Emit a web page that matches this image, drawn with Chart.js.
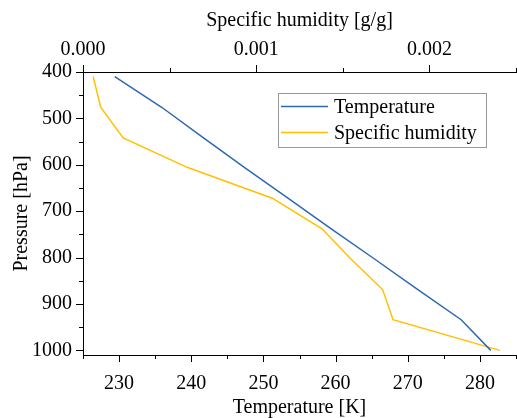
<!DOCTYPE html>
<html>
<head>
<meta charset="utf-8">
<script src="https://cdn.jsdelivr.net/npm/chart.js@4.4.0/dist/chart.umd.min.js"></script>
<style>
  html, body { margin: 0; padding: 0; background: #fff; }
  #wrap { width: 517px; height: 418px; }
</style>
</head>
<body>
<div id="wrap"><canvas id="chart" width="517" height="418"></canvas></div>
<script>
// pressure levels
const pressure = [410, 476, 542, 606, 672, 738, 802, 869, 934, 1000];
// temperature [K]
const temperature = [229.4, 235.9, 241.7, 247.4, 253.4, 259.4, 265.3, 271.4, 277.4, 281.5];
// specific humidity [g/g]
const humidity = [0.000059, 0.000102, 0.000232, 0.000605, 0.001093, 0.00138, 0.001544, 0.00173, 0.00179, 0.002406];
// y ticks (labelled every 100, minor every 50)
const pressureTicks = [400, 450, 500, 550, 600, 650, 700, 750, 800, 850, 900, 950, 1000];

const FONT = 'Liberation Serif';

// outward major/minor ticks, drawn from each scale's own tick list
const tickMarks = {
    id: 'tickMarks',
    afterDraw(chart) {
        const ctx = chart.ctx;
        const majorStep = { x: 10, x2: 0.001, y: 100 };
        ctx.save();
        ctx.strokeStyle = '#000';
        ctx.lineWidth = 1;
        ['x', 'x2', 'y'].forEach(id => {
            const scale = chart.scales[id];
            scale.ticks.forEach((t, i) => {
                const r = t.value / majorStep[id];
                const len = Math.abs(r - Math.round(r)) < 1e-6 ? 7 : 4;
                const p = Math.round(scale.getPixelForTick(i)) + 0.5;
                ctx.beginPath();
                if (id === 'y') {
                    ctx.moveTo(scale.right, p);
                    ctx.lineTo(scale.right - len, p);
                } else if (id === 'x') {
                    ctx.moveTo(p, scale.top);
                    ctx.lineTo(p, scale.top + len);
                } else {
                    ctx.moveTo(p, scale.bottom);
                    ctx.lineTo(p, scale.bottom - len);
                }
                ctx.stroke();
            });
        });
        ctx.restore();
    }
};

// legend box inside the plot, upper right
const boxLegend = {
    id: 'boxLegend',
    afterDraw(chart) {
        const ctx = chart.ctx;
        const area = chart.chartArea;
        const left = area.right - 238, top = area.top + 21;
        ctx.save();
        ctx.fillStyle = '#fff';
        ctx.fillRect(left, top, 208, 54);
        ctx.strokeStyle = '#999';
        ctx.lineWidth = 1;
        ctx.strokeRect(left + 0.5, top + 0.5, 208, 54);
        ctx.font = '20px "' + FONT + '"';
        ctx.textBaseline = 'middle';
        chart.data.datasets.forEach((ds, i) => {
            const y = top + 13.5 + i * 26;
            ctx.strokeStyle = ds.borderColor;
            ctx.lineWidth = 1.5;
            ctx.beginPath();
            ctx.moveTo(left + 3, y);
            ctx.lineTo(left + 50, y);
            ctx.stroke();
            ctx.fillStyle = '#000';
            ctx.fillText(ds.label, left + 56, y + 1);
        });
        ctx.restore();
    }
};

const isMajor = (v, step) => Math.abs(v / step - Math.round(v / step)) < 1e-6;

new Chart(document.getElementById('chart').getContext('2d'), {
    type: 'line',
    data: {
        datasets: [
            {
                label: 'Temperature',
                data: pressure.map((p, i) => ({ x: temperature[i], y: p })),
                xAxisID: 'x',
                borderColor: '#2C69B0',
                borderWidth: 1.5,
                pointRadius: 0,
                tension: 0
            },
            {
                label: 'Specific humidity',
                data: pressure.map((p, i) => ({ x: humidity[i], y: p })),
                xAxisID: 'x2',
                borderColor: '#FFC000',
                borderWidth: 1.5,
                pointRadius: 0,
                tension: 0
            }
        ]
    },
    options: {
        responsive: false,
        animation: false,
        layout: { padding: { right: 1 } },
        plugins: {
            legend: { display: false },
            tooltip: { enabled: false }
        },
        scales: {
            x: {
                type: 'linear',
                position: 'bottom',
                min: 225,
                max: 285,
                afterFit: s => { s.height = 63; s.paddingLeft = 0; s.paddingRight = 0; },
                grid: { drawOnChartArea: false, tickColor: 'transparent', tickLength: 7 },
                border: { color: '#000', width: 1 },
                ticks: {
                    stepSize: 5,
                    padding: 10,
                    maxRotation: 0,
                    autoSkip: false,
                    color: '#000',
                    font: { family: FONT, size: 20 },
                    callback: v => isMajor(v, 10) ? String(v) : ''
                },
                title: {
                    display: true,
                    text: 'Temperature [K]',
                    color: '#000',
                    font: { family: FONT, size: 20 },
                    padding: { top: 0, bottom: -2 }
                }
            },
            x2: {
                type: 'linear',
                position: 'top',
                min: 0,
                max: 0.0025,
                afterFit: s => { s.height = 72; s.paddingLeft = 0; s.paddingRight = 0; },
                grid: { drawOnChartArea: false, tickColor: 'transparent', tickLength: 7 },
                border: { color: '#000', width: 1 },
                ticks: {
                    stepSize: 0.0005,
                    padding: 3,
                    maxRotation: 0,
                    autoSkip: false,
                    color: '#000',
                    font: { family: FONT, size: 20 },
                    callback: v => isMajor(v, 0.001) ? v.toFixed(3) : ''
                },
                title: {
                    display: true,
                    text: 'Specific humidity [g/g]',
                    color: '#000',
                    font: { family: FONT, size: 20 },
                    padding: { top: 9, bottom: 0 }
                }
            },
            y: {
                type: 'linear',
                reverse: true,
                min: 400,
                max: 1010,
                afterFit: s => { s.width = 83; },
                afterBuildTicks: s => { s.ticks = pressureTicks.map(v => ({ value: v })); },
                grid: { drawOnChartArea: false, tickColor: 'transparent', tickLength: 7 },
                border: { color: '#000', width: 1 },
                ticks: {
                    padding: 4,
                    autoSkip: false,
                    color: '#000',
                    font: { family: FONT, size: 20 },
                    callback: v => isMajor(v, 100) ? String(v) : ''
                },
                title: {
                    display: true,
                    text: 'Pressure [hPa]',
                    color: '#000',
                    font: { family: FONT, size: 20 },
                    padding: { top: 10, bottom: 0 }
                }
            }
        }
    },
    plugins: [tickMarks, boxLegend]
});
</script>
</body>
</html>
